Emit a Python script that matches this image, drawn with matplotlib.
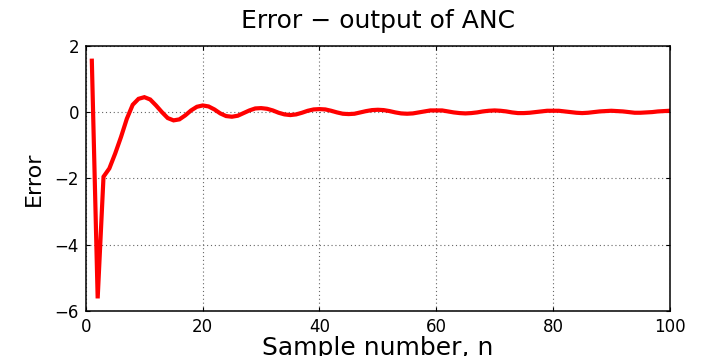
import matplotlib
matplotlib.use("Agg")
import matplotlib.pyplot as plt

# error samples, n = 1..100
n = list(range(1, 101))
error = [
    1.55, -5.62, -1.95, -1.70, -1.25, -0.75, -0.20, 0.22, 0.40, 0.45,
    0.38, 0.20, 0.00, -0.18, -0.25, -0.22, -0.10, 0.05, 0.16, 0.20,
    0.17, 0.08, -0.04, -0.12, -0.14, -0.11, -0.03, 0.05, 0.11, 0.12,
    0.10, 0.05, -0.02, -0.07, -0.09, -0.07, -0.02, 0.04, 0.08, 0.09,
    0.08, 0.04, -0.01, -0.05, -0.06, -0.05, -0.01, 0.03, 0.06, 0.07,
    0.06, 0.03, -0.01, -0.04, -0.05, -0.04, -0.01, 0.02, 0.05, 0.05,
    0.05, 0.02, -0.01, -0.03, -0.04, -0.03, -0.01, 0.02, 0.04, 0.05,
    0.04, 0.02, -0.01, -0.03, -0.03, -0.02, 0.00, 0.02, 0.04, 0.04,
    0.04, 0.02, 0.00, -0.02, -0.03, -0.02, 0.00, 0.02, 0.03, 0.04,
    0.03, 0.02, 0.00, -0.02, -0.02, -0.01, 0.00, 0.02, 0.03, 0.04,
]
x_ticks = [0, 20, 40, 60, 80, 100]
y_ticks = [-6, -4, -2, 0, 2]

plt.rcParams['font.family'] = ['DejaVu Sans']

fig = plt.figure(figsize=(7.02, 3.56), dpi=100)
ax = fig.add_axes([0.1225, 0.1264, 0.8315, 0.745])

ax.plot(n, error, color='red', linewidth=3, solid_joinstyle='miter')

ax.set_xlim(0, 100)
ax.set_ylim(-6, 2)
ax.set_xticks(x_ticks)
ax.set_yticks(y_ticks)
ax.set_yticklabels([f"\u2212{abs(v)}" if v < 0 else str(v) for v in y_ticks])

ax.grid(True, color='0.4', linestyle=(0, (1, 2.5)), linewidth=0.8)
ax.tick_params(direction='in', length=3, width=0.8, top=True, right=True,
               labelsize=12, pad=5, colors='black')
for s in ax.spines.values():
    s.set_linewidth(1.1)

ax.set_title("Error \u2212 output of ANC", fontsize=18, pad=13)
# the reference has this label running off the bottom edge
ax.set_xlabel("Sample number, n", fontsize=18, labelpad=0)
ax.set_ylabel("Error", fontsize=16, labelpad=8)

fig.savefig("out.png", dpi=100)
